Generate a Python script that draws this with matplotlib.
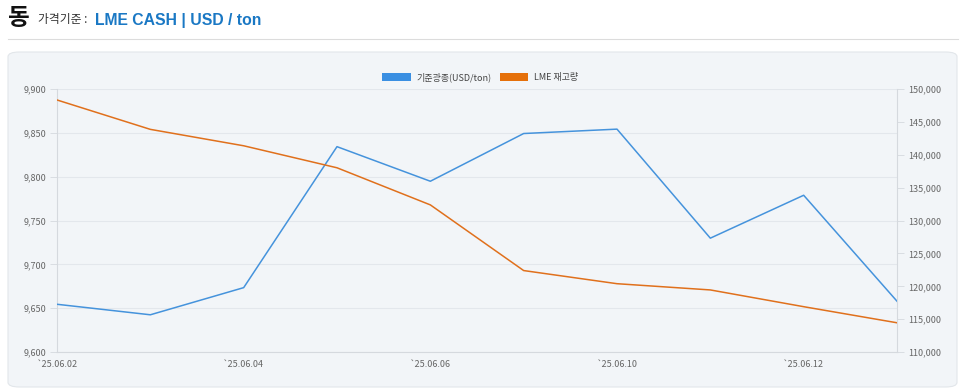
import matplotlib
matplotlib.use('Agg')
import matplotlib.pyplot as plt
from matplotlib.patches import FancyBboxPatch, Patch
from matplotlib.ticker import FuncFormatter

plt.rcParams['font.family'] = ['Noto Sans CJK KR', 'DejaVu Sans']

dates = ['`25.06.02', '`25.06.03', '`25.06.04', '`25.06.05', '`25.06.06',
         '`25.06.09', '`25.06.10', '`25.06.11', '`25.06.12', '`25.06.13']
price = [9654.5, 9642.5, 9673.5, 9834.5, 9795.0, 9849.5, 9854.5, 9730.0, 9779.0, 9658.0]
stock = [148375, 143900, 141400, 138050, 132400, 122400, 120400, 119450, 116900, 114450]
price_ticks = [9600, 9650, 9700, 9750, 9800, 9850, 9900]
stock_ticks = [110000, 115000, 120000, 125000, 130000, 135000, 140000, 145000, 150000]

blue = '#4593dc'
orange = '#e0701c'
grid_c = '#e3e7ec'
tick_c = '#666666'

fig = plt.figure(figsize=(9.6, 3.9), dpi=100)
fig.patch.set_facecolor('white')

# header
fig.text(8 / 960, 1 - 18 / 390, '동', fontsize=17, fontweight='bold', color='#111111', va='center')
fig.text(38 / 960, 1 - 20 / 390, '가격기준 :', fontsize=8.5, color='#333333', va='center')
fig.text(95 / 960, 1 - 20 / 390, 'LME CASH | USD / ton', fontsize=11.3, fontweight='bold',
         color='#1a78c4', va='center', family=['Liberation Sans', 'DejaVu Sans'])
fig.add_artist(plt.Line2D([8 / 960, 958 / 960], [1 - 39 / 390, 1 - 39 / 390],
                          color='#dcdcdc', lw=0.8))

# panel
panel = FancyBboxPatch((8 / 960, 1 - 387 / 390), 949 / 960, 335 / 390,
                       boxstyle='round,pad=0,rounding_size=0.012',
                       transform=fig.transFigure, facecolor='#f2f5f8',
                       edgecolor='#e2e6ea', lw=0.8, zorder=0)
fig.add_artist(panel)

ax = fig.add_axes([57 / 960, 1 - 352 / 390, 840 / 960, 262.7 / 390])
ax.set_facecolor('none')
ax2 = ax.twinx()

x = list(range(len(dates)))
ax.plot(x, price, color=blue, lw=1.1, zorder=3)
ax2.plot(x, stock, color=orange, lw=1.1, zorder=3)

ax.set_xlim(0, len(dates) - 1)
ax.set_ylim(price_ticks[0], price_ticks[-1])
ax2.set_ylim(stock_ticks[0], stock_ticks[-1])
ax.set_yticks(price_ticks)
ax2.set_yticks(stock_ticks)
ax.set_xticks(x[::2])
ax.set_xticklabels(dates[::2])

fmt = FuncFormatter(lambda v, p: f'{int(v):,}')
ax.yaxis.set_major_formatter(fmt)
ax2.yaxis.set_major_formatter(fmt)

ax.grid(axis='y', color=grid_c, lw=0.8)
ax.set_axisbelow(True)

for a in (ax, ax2):
    for s in a.spines.values():
        s.set_visible(False)
    a.tick_params(labelsize=6.5, colors=tick_c, length=5, width=0.6)
    a.tick_params(axis='y', color='#d5d9de')
ax.spines['left'].set_visible(True)
ax.spines['bottom'].set_visible(True)
ax2.spines['right'].set_visible(True)
for s in (ax.spines['left'], ax.spines['bottom'], ax2.spines['right']):
    s.set_color('#d5d9de')
    s.set_linewidth(0.8)
ax.tick_params(axis='x', length=0, pad=6)
ax.tick_params(axis='y', pad=3)
ax2.tick_params(axis='y', pad=3)

handles = [Patch(facecolor='#3a8fe2', edgecolor='none', label='기준광종(USD/ton)'),
           Patch(facecolor='#e5700a', edgecolor='none', label='LME 재고량')]
fig.legend(handles=handles, loc='center', bbox_to_anchor=(0.5, 1 - 77 / 390), ncol=2,
           frameon=False, fontsize=6.5, handlelength=3.2, handleheight=1.0,
           columnspacing=0.9, handletextpad=0.6, labelcolor='#444444')

fig.savefig('out.png', dpi=100, facecolor='white')
